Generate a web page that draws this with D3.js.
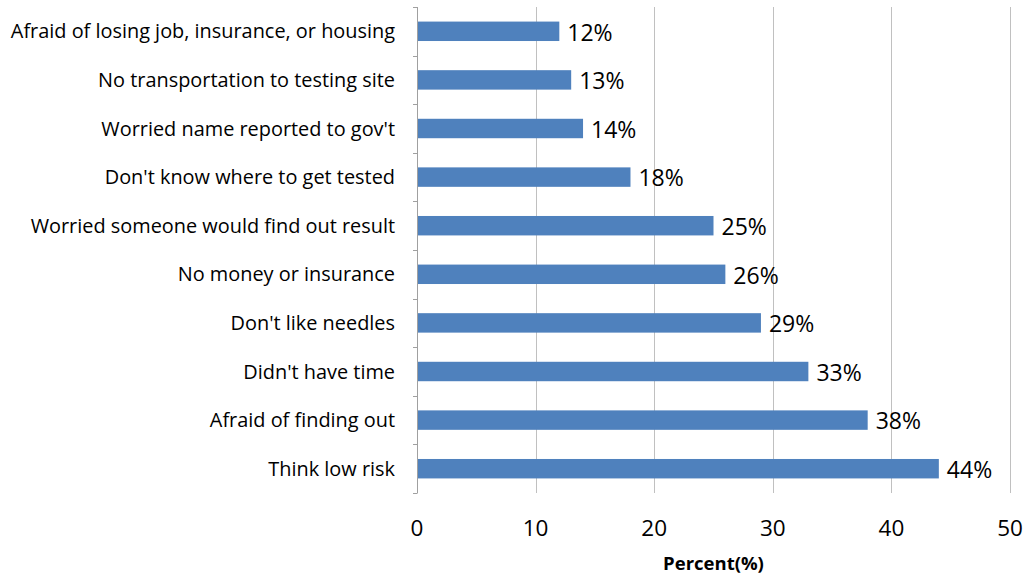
<!DOCTYPE html>
<html>
<head>
<meta charset="utf-8">
<script src="https://d3js.org/d3.v7.min.js"></script>
<style>
  html, body { margin: 0; padding: 0; background: #fff; }
  svg { display: block; }
  text { font-family: "Open Sans", "Noto Sans", sans-serif; fill: #000; }
</style>
</head>
<body>
<svg id="chart" width="1028" height="575"></svg>
<script>
// Reasons given for not getting tested (percent of respondents)
const categories = [
  "Afraid of losing job, insurance, or housing",
  "No transportation to testing site",
  "Worried name reported to gov't",
  "Don't know where to get tested",
  "Worried someone would find out result",
  "No money or insurance",
  "Don't like needles",
  "Didn't have time",
  "Afraid of finding out",
  "Think low risk"
];
const values = [12, 13, 14, 18, 25, 26, 29, 33, 38, 44];
const xTicks = [0, 10, 20, 30, 40, 50];
const xTitle = "Percent(%)";

const svg = d3.select("#chart");
const margin = { left: 417, right: 18, top: 7, bottom: 82 };
const W = 1028, H = 575;
const plotW = W - margin.left - margin.right;
const plotH = H - margin.top - margin.bottom;

const g = svg.append("g").attr("transform", `translate(${margin.left},${margin.top})`);

const x = d3.scaleLinear().domain([0, 50]).range([0, plotW]);
const y = d3.scaleBand().domain(categories).range([0, plotH]).paddingInner(0.6).paddingOuter(0.3);
const yb = d3.scaleBand().domain(categories).range([0, plotH]);

// vertical gridlines
g.selectAll(".grid").data(xTicks.filter(d => d > 0)).join("line")
  .attr("x1", d => Math.round(x(d)) + 0.5).attr("x2", d => Math.round(x(d)) + 0.5)
  .attr("y1", 0).attr("y2", plotH)
  .attr("stroke", "#c0c0c0").attr("stroke-width", 1);

// bars
g.selectAll(".bar").data(values).join("rect")
  .attr("x", x(0) + 1)
  .attr("y", (d, i) => y(categories[i]))
  .attr("width", d => x(d) - x(0) - 1)
  .attr("height", y.bandwidth())
  .attr("fill", "#4f81bd");

// value labels
g.selectAll(".val").data(values).join("text")
  .attr("x", d => x(d) + 8)
  .attr("y", (d, i) => y(categories[i]) + y.bandwidth() / 2 + 1)
  .attr("dy", "0.36em")
  .attr("font-size", 23)
  .text(d => d + "%");

// category axis with boundary ticks
g.append("line")
  .attr("x1", 0.5).attr("x2", 0.5).attr("y1", 0).attr("y2", plotH)
  .attr("stroke", "#a0a0a0");
const bounds = categories.map(c => yb(c)).concat([plotH]);
g.selectAll(".ytick").data(bounds).join("line")
  .attr("x1", -4).attr("x2", 0.5)
  .attr("y1", d => Math.round(d) + 0.5).attr("y2", d => Math.round(d) + 0.5)
  .attr("stroke", "#a0a0a0");
g.selectAll(".ylab").data(categories).join("text")
  .attr("x", -22)
  .attr("y", c => yb(c) + yb.bandwidth() / 2)
  .attr("dy", "0.36em")
  .attr("text-anchor", "end")
  .attr("font-size", 19.9)
  .text(c => c);

// value axis labels
g.selectAll(".xlab").data(xTicks).join("text")
  .attr("x", d => x(d))
  .attr("y", plotH + 35)
  .attr("dy", "0.36em")
  .attr("text-anchor", "middle")
  .attr("font-size", 22.5)
  .text(d => d);

g.append("text")
  .attr("x", plotW / 2)
  .attr("y", plotH + 70)
  .attr("dy", "0.36em")
  .attr("text-anchor", "middle")
  .attr("font-size", 18.5)
  .attr("font-weight", "bold")
  .text(xTitle);
</script>
</body>
</html>
